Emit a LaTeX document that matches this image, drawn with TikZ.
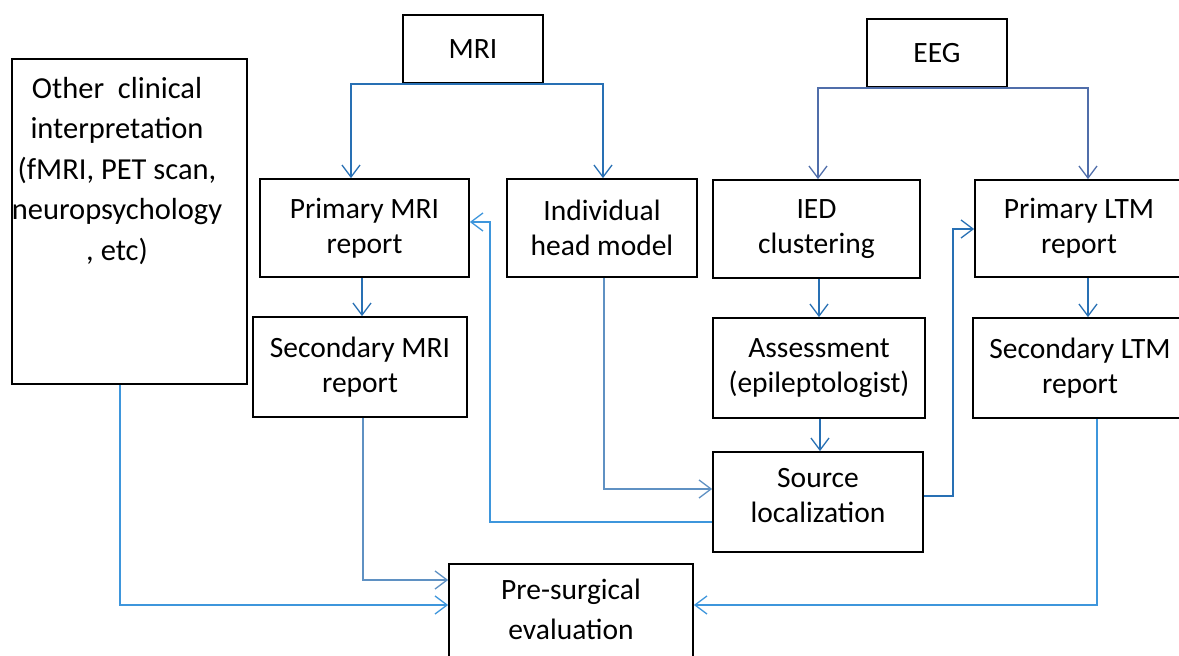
\documentclass[tikz,border=0pt]{standalone}
\usepackage{fontspec}
\setmainfont{Carlito}
\usetikzlibrary{arrows.meta}
\definecolor{cA}{RGB}{40,112,180}
\definecolor{cB}{RGB}{80,110,170}
\definecolor{cC}{RGB}{62,150,220}
\definecolor{cD}{RGB}{95,145,195}
\tikzset{
  box/.style={draw=black, line width=1.8pt, align=center, inner sep=0pt,
    font=\fontsize{29.5}{35}\selectfont},
  conn/.style={line width=1.3pt, -{Straight Barb[length=12pt,width=18pt,line width=1.3pt]}},
  lineA/.style={conn, draw=cA},
  lineB/.style={conn, draw=cB},
  lineC/.style={conn, draw=cC},
  lineD/.style={conn, draw=cD},
}
\begin{document}
\begin{tikzpicture}[x=1pt,y=-1pt]
\clip (0,0) rectangle (1179,656);
\fill[white] (0,0) rectangle (1179,656);

\node[box, minimum width=140, minimum height=68] (mri) at (473,49) {MRI};
\node[box, minimum width=140, minimum height=68] (eeg) at (937,53) {EEG};
\node[box, minimum width=235, minimum height=325] (oth) at (129.5,221.5) {};
\node[align=center, inner sep=0pt, anchor=north, font=\fontsize{30.5}{40.5}\selectfont] (othtext) at (117,77)
  {Other\ \ clinical\\interpretation\\(fMRI, PET scan,\\neuropsychology\\, etc)};

\node[box, minimum width=209, minimum height=98] (pmri) at (364.5,228) {Primary MRI\\report};
\node[box, minimum width=190, minimum height=98] (head) at (602,228) {Individual\\head model};
\node[box, minimum width=207, minimum height=98] (ied) at (816.5,229) {IED\\clustering};
\node[box, minimum width=208, minimum height=97] (pltm) at (1079,228.5) {Primary LTM\\report};

\node[box, minimum width=214, minimum height=100] (smri) at (360,367) {Secondary MRI\\report};
\node[box, minimum width=212, minimum height=100] (assess) at (819,368) {Assessment\\(epileptologist)};
\node[box, minimum width=214, minimum height=100] (sltm) at (1080,368) {Secondary LTM\\report};

\node[box, minimum width=210, minimum height=100, text depth=14pt] (src) at (818,502) {Source\\localization};
\node[box, minimum width=244, minimum height=100, text depth=9pt, font=\fontsize{29.5}{40}\selectfont] (pre) at (571,614) {Pre-surgical\\evaluation};

% MRI and EEG branches
\draw[lineA] (mri.south) -| ([xshift=-13.5]pmri.north);
\draw[lineA] (mri.south) -| ([xshift=1]head.north);
\draw[lineB] (eeg.south) -| ([xshift=1.5]ied.north);
\draw[lineB] (eeg.south) -| ([xshift=9]pltm.north);

% vertical steps
\draw[lineA] ([xshift=-2.5]pmri.south) -- ([xshift=-2.5]pmri.south |- smri.north);
\draw[lineA] ([xshift=2.5]ied.south) -- ([xshift=2.5]ied.south |- assess.north);
\draw[lineA] ([xshift=1]assess.south) -- ([xshift=1]assess.south |- src.north);
\draw[lineA] ([xshift=9]pltm.south) -- ([xshift=9]pltm.south |- sltm.north);

% head model -> source localization
\draw[lineD] ([xshift=2]head.south) |- ([yshift=13]src.west);

% source localization -> primary MRI report
\coordinate (k1) at (490,222);
\draw[lineC] ([yshift=-20]src.west) -| (k1) -- (k1 -| pmri.east);

% source localization -> primary LTM report
\coordinate (k2) at (953,229);
\draw[lineA] ([yshift=6]src.east) -| (k2) -- (k2 -| pltm.west);

% to pre-surgical evaluation
\draw[lineC] ([xshift=-9.5]oth.south) |- ([yshift=9]pre.west);
\draw[lineD] ([xshift=3]smri.south) |- ([yshift=34]pre.west);
\draw[lineC] ([xshift=17]sltm.south) |- ([yshift=9]pre.east);
\end{tikzpicture}
\end{document}
